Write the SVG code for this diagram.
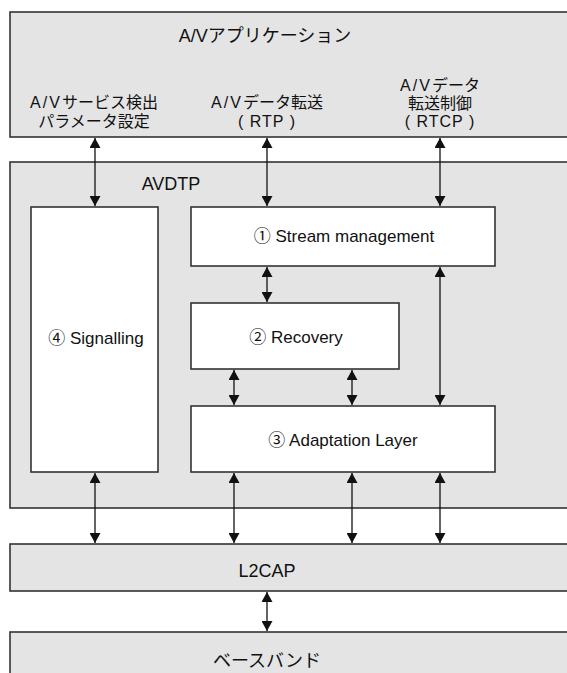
<svg xmlns="http://www.w3.org/2000/svg" width="567" height="673" viewBox="0 0 567 673">
<style>
.layer{fill:#e4e4e4;stroke:#333;stroke-width:1.6}
.box{fill:#fff;stroke:#333;stroke-width:1.6}
.t{font-family:"Liberation Sans","Noto Sans CJK JP",sans-serif;fill:#111;text-anchor:middle}
.big{font-size:18px}
.sm{font-size:16px}
.md{font-size:17px}
.conn line{stroke:#111;stroke-width:1.3;marker-start:url(#ah);marker-end:url(#ah)}
.sp{letter-spacing:1px}
.av{letter-spacing:2px}
</style>
<defs>
<marker id="ah" viewBox="0 0 10 11" refX="10" refY="5.5" markerWidth="10" markerHeight="11" markerUnits="userSpaceOnUse" orient="auto-start-reverse">
<path d="M0,0 L10,5.5 L0,11 Z" fill="#111"/>
</marker>
</defs>
<g id="app">
<rect class="layer" x="10" y="12" width="580" height="125"/>
<text class="t big" x="265" y="42">A/Vアプリケーション</text>
<text class="t sm" x="94" y="108"><tspan class="av">A/V</tspan>サービス検出</text>
<text class="t sm" x="94" y="127">パラメータ設定</text>
<text class="t sm" x="267" y="108"><tspan class="av">A/V</tspan>データ転送</text>
<text class="t sm sp" x="267" y="127">( RTP )</text>
<text class="t sm" x="440" y="91"><tspan class="av">A/V</tspan>データ</text>
<text class="t sm" x="440" y="109">転送制御</text>
<text class="t sm sp" x="440" y="127">( RTCP )</text>
</g>
<g id="avdtp">
<rect class="layer" x="10" y="162" width="580" height="346"/>
<text class="t big" x="171" y="190">AVDTP</text>
</g>
<g id="signalling">
<rect class="box" x="31" y="207" width="127" height="265"/>
<text class="t md" x="96" y="344">④ Signalling</text>
</g>
<g id="stream">
<rect class="box" x="191" y="207" width="304" height="59"/>
<text class="t md" x="344" y="242">① Stream management</text>
</g>
<g id="recovery">
<rect class="box" x="191" y="303" width="208" height="66"/>
<text class="t md" x="296" y="343">② Recovery</text>
</g>
<g id="adaptation">
<rect class="box" x="191" y="406" width="304" height="66"/>
<text class="t md" x="343" y="446">③ Adaptation Layer</text>
</g>
<g id="l2cap">
<rect class="layer" x="10" y="544" width="580" height="47"/>
<text class="t big" x="267" y="577">L2CAP</text>
</g>
<g id="baseband">
<rect class="layer" x="10" y="632" width="580" height="60"/>
<text class="t big" x="267" y="667">ベースバンド</text>
</g>
<g id="connectors" class="conn">
<line x1="95" y1="138" x2="95" y2="206"/>
<line x1="267" y1="138" x2="267" y2="206"/>
<line x1="440" y1="138" x2="440" y2="206"/>
<line x1="267" y1="267" x2="267" y2="302"/>
<line x1="440" y1="267" x2="440" y2="405"/>
<line x1="234" y1="370" x2="234" y2="405"/>
<line x1="352" y1="370" x2="352" y2="405"/>
<line x1="95" y1="473" x2="95" y2="543"/>
<line x1="234" y1="473" x2="234" y2="543"/>
<line x1="352" y1="473" x2="352" y2="543"/>
<line x1="440" y1="473" x2="440" y2="543"/>
<line x1="267" y1="592" x2="267" y2="631"/>
</g>
</svg>
